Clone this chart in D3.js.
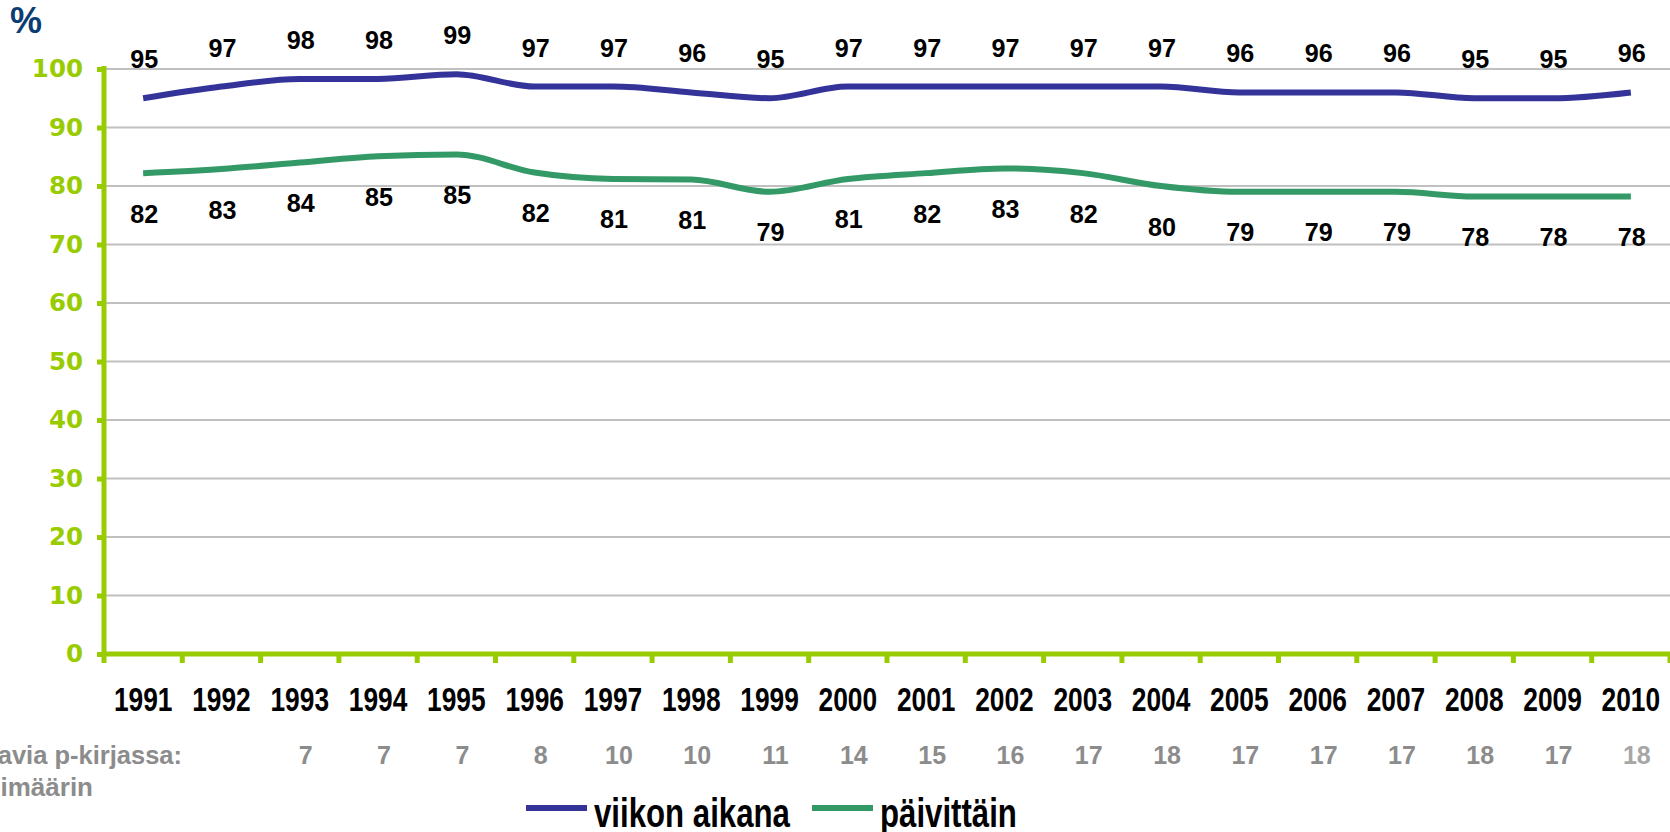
<!DOCTYPE html>
<html>
<head>
<meta charset="utf-8">
<script src="https://cdn.jsdelivr.net/npm/d3@7"></script>
<style>
  body { margin: 0; background: #fff; }
  svg { display: block; }
</style>
</head>
<body>
<script>
  // chart values
  const years = ["1991", "1992", "1993", "1994", "1995", "1996", "1997", "1998", "1999", "2000",
                 "2001", "2002", "2003", "2004", "2005", "2006", "2007", "2008", "2009", "2010"];
  const weekly = [95, 97, 98.3, 98.3, 99.1, 97, 97, 96, 95, 97, 97, 97, 97, 97, 96, 96, 96, 95, 95, 96];
  const daily = [82.2, 82.9, 84, 85.1, 85.4, 82.3, 81.2, 81.1, 79, 81.2, 82.2, 83, 82.2, 80, 79, 79, 79, 78.2, 78.2, 78.2];
  const bookCounts = [null, null, 7, 7, 7, 8, 10, 10, 11, 14, 15, 16, 17, 18, 17, 17, 17, 18, 17, 18];
  const yTicks = [0, 10, 20, 30, 40, 50, 60, 70, 80, 90, 100];
  const seriesNames = ["viikon aikana", "päivittäin"];
  const seriesColors = ["#333399", "#339966"];

  const width = 1670, height = 832;
  const axisGreen = "#99cc00";
  const font = "'Liberation Sans', Arial, sans-serif";

  const svg = d3.select("body").append("svg")
    .attr("width", width)
    .attr("height", height);

  let x = d3.scaleBand()
    .domain(years)
    .range([104, 1670]);

  let y = d3.scaleLinear()
    .domain([0, 100])
    .range([654, 69]);

  let cx = d => x(d) + x.bandwidth() / 2;

  // gridlines
  svg.selectAll(".grid")
    .data(yTicks.filter(d => d > 0))
    .enter()
    .append("line")
    .attr("x1", 104)
    .attr("x2", width)
    .attr("y1", d => y(d))
    .attr("y2", d => y(d))
    .style("stroke", "#c0c0c0")
    .attr("stroke-width", 2);

  // y axis
  let yAxis = svg.append("g")
    .attr("transform", "translate(104, 0)")
    .call(d3.axisLeft(y)
      .tickValues(yTicks)
      .tickSize(7)
      .tickSizeOuter(0)
      .tickPadding(14));
  yAxis.select(".domain").remove();
  yAxis.selectAll(".tick line")
    .style("stroke", axisGreen)
    .attr("stroke-width", 5);
  yAxis.selectAll(".tick text")
    .style("fill", axisGreen)
    .style("font-family", "'DejaVu Sans', Verdana, sans-serif")
    .style("font-weight", "bold")
    .style("font-size", "24.5px");

  // x tick marks sit on the category boundaries
  svg.selectAll(".xtick")
    .data(years)
    .enter()
    .append("line")
    .attr("x1", d => x(d) + x.bandwidth())
    .attr("x2", d => x(d) + x.bandwidth())
    .attr("y1", y(0))
    .attr("y2", y(0) + 9)
    .style("stroke", axisGreen)
    .attr("stroke-width", 5);

  // axis lines
  svg.append("line")
    .attr("x1", 104).attr("x2", 104)
    .attr("y1", y(100) - 3).attr("y2", y(0) + 9)
    .style("stroke", axisGreen)
    .attr("stroke-width", 5);
  svg.append("line")
    .attr("x1", 102).attr("x2", width)
    .attr("y1", y(0)).attr("y2", y(0))
    .style("stroke", axisGreen)
    .attr("stroke-width", 5);

  // % title
  svg.append("text")
    .attr("x", 10)
    .attr("y", 33)
    .text("%")
    .style("font-family", font)
    .style("font-weight", "bold")
    .style("font-size", "36px")
    .style("fill", "#0b3d73");

  // year labels
  svg.selectAll(".year")
    .data(years)
    .enter()
    .append("text")
    .attr("transform", d => "translate(" + cx(d) + ", 711) scale(0.81, 1)")
    .attr("text-anchor", "middle")
    .text(d => d)
    .style("font-family", font)
    .style("font-weight", "bold")
    .style("font-size", "32.5px")
    .style("fill", "#000");

  // lines
  let line = d3.line()
    .x((d, i) => cx(years[i]))
    .y(d => y(d))
    .curve(d3.curveMonotoneX);

  [weekly, daily].forEach((vals, k) => {
    svg.append("path")
      .datum(vals)
      .attr("d", line)
      .style("fill", "none")
      .style("stroke", seriesColors[k])
      .attr("stroke-width", 6);

    svg.selectAll(".lbl" + k)
      .data(vals)
      .enter()
      .append("text")
      .attr("transform", (d, i) => "translate(" + (cx(years[i]) + 1) + ", " +
        (k == 0 ? y(d) - 30 : y(d) + 49.5) + ") scale(0.95, 1)")
      .attr("text-anchor", "middle")
      .text(d => Math.round(d))
      .style("font-family", font)
      .style("font-weight", "bold")
      .style("font-size", "26.5px")
      .style("fill", "#000");
  });

  // grey row under the years
  let counts = years.map((yr, i) => ({ year: yr, n: bookCounts[i] }))
    .filter(d => d.n != null);

  svg.selectAll(".count")
    .data(counts)
    .enter()
    .append("text")
    .attr("x", d => cx(d.year) + 6)
    .attr("y", 764)
    .attr("text-anchor", "middle")
    .text(d => d.n)
    .style("font-family", font)
    .style("font-weight", "bold")
    .style("font-size", "25px")
    .style("fill", (d, i) => i == counts.length - 1 ? "#a6a6a6" : "#8c8c8c");

  svg.append("text")
    .attr("x", 182)
    .attr("y", 764)
    .attr("text-anchor", "end")
    .text("avia p-kirjassa:")
    .style("font-family", font)
    .style("font-weight", "bold")
    .style("font-size", "25.5px")
    .style("fill", "#8c8c8c");
  svg.append("text")
    .attr("x", 93)
    .attr("y", 796)
    .attr("text-anchor", "end")
    .text("imäärin")
    .style("font-family", font)
    .style("font-weight", "bold")
    .style("font-size", "26px")
    .style("fill", "#8c8c8c");

  // legend
  const legendX = [526, 812];
  seriesNames.forEach((name, k) => {
    svg.append("line")
      .attr("x1", legendX[k])
      .attr("x2", legendX[k] + 61)
      .attr("y1", 808)
      .attr("y2", 808)
      .style("stroke", seriesColors[k])
      .attr("stroke-width", 6);
    svg.append("text")
      .attr("transform", "translate(" + (legendX[k] + 68) + ", 827) scale(0.78, 1)")
      .text(name)
      .style("font-family", font)
      .style("font-weight", "bold")
      .style("font-size", "40px")
      .style("fill", "#000");
  });
</script>
</body>
</html>
